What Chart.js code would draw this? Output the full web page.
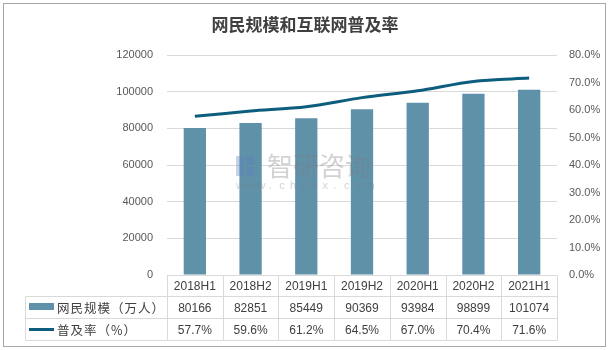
<!DOCTYPE html>
<html>
<head>
<meta charset="utf-8">
<script src="https://cdn.jsdelivr.net/npm/chart.js@4/dist/chart.umd.min.js"></script>
<style>
  body { margin: 0; background: #fff; }
  #wrap { width: 610px; height: 350px; position: relative; }
</style>
</head>
<body>
<div id="wrap"><canvas id="chart" width="610" height="350"></canvas></div>
<script>
// chart values
const periods = ['2018H1', '2018H2', '2019H1', '2019H2', '2020H1', '2020H2', '2021H1'];
const users = [80166, 82851, 85449, 90369, 93984, 98899, 101074];
const rate = [57.7, 59.6, 61.2, 64.5, 67.0, 70.4, 71.6];
const usersLabel = '网民规模（万人）';
const rateLabel = '普及率（%）';
const title = '网民规模和互联网普及率';

const barColor = '#5f91a9';
const lineColor = '#0d5d7e';
const gridColor = '#d9d9d9';
const textColor = '#404040';
const tickColor = '#595959';
const cnFont = '"Noto Sans CJK SC", "Liberation Sans", sans-serif';

// title, border, data table and watermark
const extras = {
    id: 'extras',
    afterDatasetsDraw(chart) {
        const ctx = chart.ctx;
        ctx.save();
        ctx.globalAlpha = 0.35;
        ctx.fillStyle = '#7f7f7f';
        ctx.textBaseline = 'middle';
        ctx.textAlign = 'left';
        ctx.font = '26px ' + cnFont;
        ctx.fillText('智研咨询', 267, 166);
        ctx.fillStyle = '#5b7fb8';
        ctx.fillRect(236, 156, 8, 20);
        ctx.fillRect(246, 156, 8, 9);
        ctx.fillRect(246, 167, 8, 9);
        ctx.fillStyle = '#7f7f7f';
        ctx.font = '11px "Liberation Sans", sans-serif';
        const web = 'www.chyxx.com';
        for (let i = 0; i < web.length; i++) {
            ctx.fillText(web[i], 236 + i * 10.8, 186);
        }
        ctx.restore();
    },
    afterDraw(chart) {
        const ctx = chart.ctx;
        const x = chart.scales.x;
        const area = chart.chartArea;
        ctx.save();
        // outer border
        ctx.strokeStyle = '#a6a6a6';
        ctx.lineWidth = 1;
        ctx.strokeRect(3.5, 3.5, 602, 343);

        // title
        ctx.fillStyle = textColor;
        ctx.textAlign = 'center';
        ctx.textBaseline = 'middle';
        ctx.font = 'bold 17px ' + cnFont;
        ctx.fillText(title, 305, 25);

        // table grid
        const rows = [275.5, 296.5, 318.5, 340.5];
        const colW = (area.right - area.left) / periods.length;
        const legL = 25.5;
        ctx.strokeStyle = gridColor;
        ctx.beginPath();
        ctx.moveTo(area.left + 0.5, rows[0]); ctx.lineTo(area.right + 0.5, rows[0]);
        for (let r = 1; r < rows.length; r++) {
            ctx.moveTo(legL, rows[r]); ctx.lineTo(area.right + 0.5, rows[r]);
        }
        ctx.moveTo(legL, rows[1]); ctx.lineTo(legL, rows[3]);
        for (let c = 0; c <= periods.length; c++) {
            const cx = Math.round(area.left + c * colW) + 0.5;
            ctx.moveTo(cx, rows[0]); ctx.lineTo(cx, rows[3]);
        }
        ctx.stroke();

        // table text
        ctx.fillStyle = textColor;
        ctx.font = '12px "Liberation Sans", sans-serif';
        ctx.textAlign = 'center';
        periods.forEach((p, i) => {
            const cx = x.getPixelForValue(i);
            ctx.fillText(p, cx, (rows[0] + rows[1]) / 2 + 1);
            ctx.fillText(String(users[i]), cx, (rows[1] + rows[2]) / 2 + 1);
            ctx.fillText(rate[i].toFixed(1) + '%', cx, (rows[2] + rows[3]) / 2 + 1);
        });

        // legend keys
        ctx.fillStyle = barColor;
        ctx.fillRect(29, 303, 25, 7);
        ctx.strokeStyle = lineColor;
        ctx.lineWidth = 3;
        ctx.beginPath();
        ctx.moveTo(29, 329.5); ctx.lineTo(54, 329.5);
        ctx.stroke();
        ctx.fillStyle = textColor;
        ctx.textAlign = 'left';
        ctx.font = '12.5px ' + cnFont;
        ctx.letterSpacing = '1px';
        ctx.fillText(usersLabel, 57, (rows[1] + rows[2]) / 2 + 1);
        ctx.fillText(rateLabel, 57, (rows[2] + rows[3]) / 2 + 1);
        ctx.restore();
    }
};

new Chart(document.getElementById('chart'), {
    data: {
        labels: periods,
        datasets: [
            {
                type: 'line',
                label: rateLabel,
                data: rate,
                yAxisID: 'y1',
                borderColor: lineColor,
                borderWidth: 3,
                pointRadius: 0,
                tension: 0.3,
                order: 1
            },
            {
                type: 'bar',
                label: usersLabel,
                data: users,
                yAxisID: 'y',
                backgroundColor: barColor,
                categoryPercentage: 1,
                barPercentage: 0.4,
                order: 2
            }
        ]
    },
    plugins: [extras],
    options: {
        responsive: false,
        animation: false,
        devicePixelRatio: 1,
        layout: { padding: { top: 55, left: 0, right: 0, bottom: 0 } },
        plugins: {
            legend: { display: false },
            title: { display: false },
            tooltip: { enabled: false }
        },
        scales: {
            x: {
                ticks: { display: false },
                grid: { display: false },
                border: { display: false },
                afterFit: s => { s.height = 75; }
            },
            y: {
                position: 'left',
                min: 0,
                max: 120000,
                ticks: {
                    stepSize: 20000,
                    color: tickColor,
                    padding: 14,
                    font: { family: '"Liberation Sans", sans-serif', size: 11 },
                    callback: v => String(v)
                },
                grid: { color: gridColor, drawTicks: false },
                border: { display: false },
                afterFit: s => { s.width = 167; }
            },
            y1: {
                position: 'right',
                min: 0,
                max: 80,
                ticks: {
                    stepSize: 10,
                    color: tickColor,
                    padding: 12,
                    font: { family: '"Liberation Sans", sans-serif', size: 11 },
                    callback: v => v.toFixed(1) + '%'
                },
                grid: { display: false, drawTicks: false },
                border: { display: false },
                afterFit: s => { s.width = 53; }
            }
        }
    }
});
</script>
</body>
</html>
